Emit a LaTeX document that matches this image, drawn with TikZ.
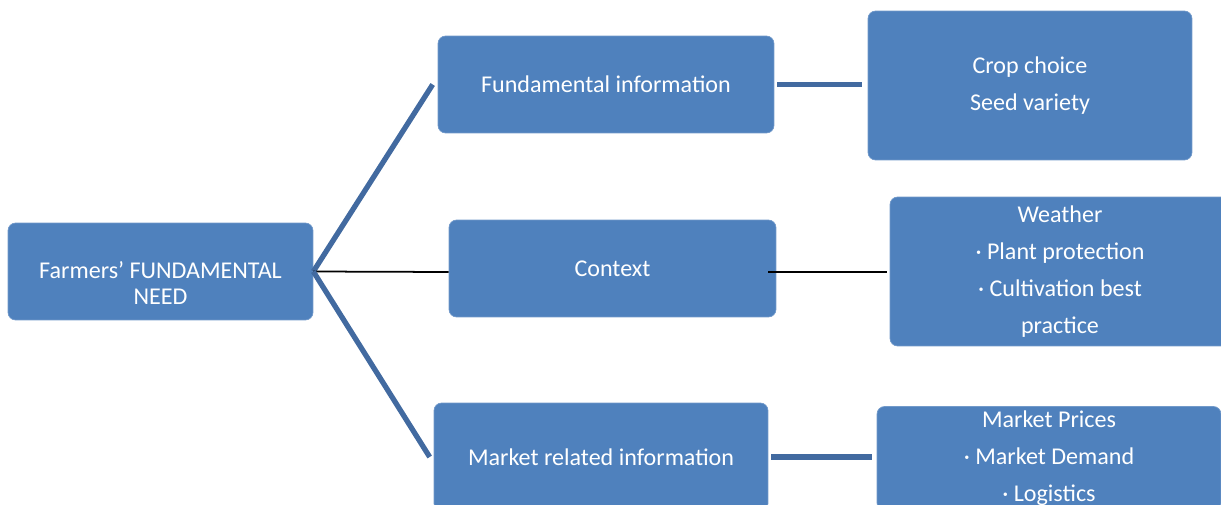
\documentclass[tikz,border=0pt]{standalone}
\usepackage{fontspec}
\setmainfont{Carlito}
\definecolor{boxblue}{RGB}{79,129,189}
\definecolor{linkblue}{RGB}{66,106,160}

\begin{document}
\begin{tikzpicture}[x=0.02cm, y=-0.02cm,
    infobox/.style={fill=boxblue, draw=boxblue!80!white, rounded corners=0.15cm,
      text=white, align=center, inner sep=0pt,
      font=\fontsize{13.7}{21}\selectfont},
    bluelink/.style={linkblue, line width=3pt},
    blacklink/.style={black, line width=1pt}]
        \useasboundingbox (0, 0) rectangle (1221, 504);
        \node[infobox, minimum width=6.1cm, minimum height=1.94cm,
          font=\fontsize{13.7}{15}\selectfont] (root) at (160.5, 271.5)
          {\rule{0pt}{23pt}Farmers’ FUNDAMENTAL\\NEED};
        \node[infobox, minimum width=6.72cm, minimum height=1.94cm]
          (fund) at (606, 84.5) {Fundamental information};
        \node[infobox, minimum width=6.54cm, minimum height=1.94cm]
          (ctx) at (612.5, 268.5) {Context};
        \node[infobox, minimum width=6.68cm, minimum height=2.16cm]
          (mkt) at (601, 457) {Market related information};
        \node[infobox, minimum width=6.48cm, minimum height=2.98cm]
          (crop) at (1030, 85.5) {Crop choice\\Seed variety};
        \node[infobox, minimum width=6.8cm, minimum height=2.98cm]
          (wx) at (1060, 271.5)
          {Weather\\· Plant protection\\· Cultivation best\\practice};
        \node[infobox, minimum width=6.88cm, minimum height=2.08cm]
          (price) at (1049, 458.5)
          {Market Prices\\· Market Demand\\· Logistics};
        \draw[bluelink] (root.east) -- ([xshift=-0.1cm]fund.west);
        \draw[blacklink] (root.east) -- ([yshift=-0.07cm]ctx.west);
        \draw[bluelink] (root.east) -- ([xshift=-0.08cm]mkt.west);
        \draw[bluelink, shorten <=0.06cm, shorten >=0.12cm]
          (fund.east) -- (crop.west |- fund.east);
        \draw[blacklink, shorten >=0.06cm]
          ([xshift=-0.16cm, yshift=-0.07cm]ctx.east)
          -- ([yshift=-0.07cm]wx.west |- ctx.east);
        \draw[bluelink, shorten <=0.06cm, shorten >=0.1cm]
          (mkt.east) -- (price.west |- mkt.east);
      \end{tikzpicture}
\end{document}
